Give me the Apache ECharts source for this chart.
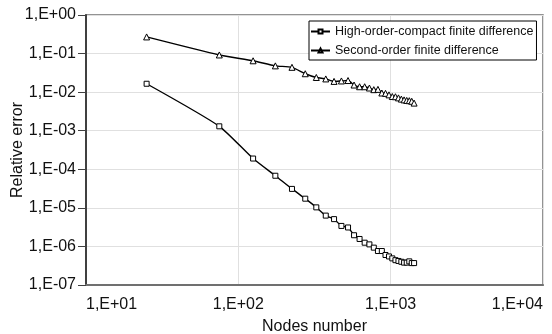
<!DOCTYPE html>
<html>
<head>
<meta charset="utf-8">
<script src="https://cdn.jsdelivr.net/npm/echarts@6/dist/echarts.min.js"></script>
<style>
html,body{margin:0;padding:0;background:#fff;}
#chart{width:552px;height:334px;}
</style>
</head>
<body>
<div id="chart"></div>
<script>
const nodes = [25, 75, 125, 175, 225, 275, 325, 375, 425, 475, 525, 575, 625, 675, 725,
  775, 825, 875, 925, 975, 1025, 1075, 1125, 1175, 1225, 1275, 1325, 1375, 1425];
const highOrderCompact = [1.65e-2, 1.3e-3, 1.9e-4, 6.8e-5, 3.1e-5, 1.73e-5, 1.03e-5, 6.3e-6,
  5.1e-6, 3.4e-6, 3.1e-6, 1.95e-6, 1.56e-6, 1.25e-6, 1.13e-6, 9.3e-7, 7.6e-7, 7.6e-7,
  6.0e-7, 5.5e-7, 4.9e-7, 4.4e-7, 4.2e-7, 4.0e-7, 3.8e-7, 3.8e-7, 4.1e-7, 3.7e-7, 3.7e-7];
const secondOrder = [0.27, 0.092, 0.065, 0.048, 0.044, 0.030, 0.024, 0.022, 0.019, 0.0195,
  0.020, 0.0153, 0.0138, 0.0138, 0.0128, 0.0116, 0.0118, 0.0095, 0.0093, 0.0085, 0.0077,
  0.0076, 0.0071, 0.0066, 0.0063, 0.0061, 0.0060, 0.0058, 0.0052];
const seriesNames = ['High-order-compact finite difference', 'Second-order finite difference'];
const xTickLabels = ['1,E+01', '1,E+02', '1,E+03', '1,E+04'];
const yTickLabels = ['1,E-07', '1,E-06', '1,E-05', '1,E-04', '1,E-03', '1,E-02', '1,E-01', '1,E+00'];

const font = "'Liberation Sans', Arial, sans-serif";
const chart = echarts.init(document.getElementById('chart'), null, {renderer: 'canvas'});
chart.setOption({
  animation: false,
  backgroundColor: '#fff',
  textStyle: {fontFamily: font, color: '#111'},
  grid: {left: 86, right: 9, top: 15, bottom: 49, containLabel: false, outerBoundsMode: 'none',
    show: true, borderColor: '#707070', borderWidth: 1.5, backgroundColor: 'transparent'},
  legend: {
    orient: 'vertical', left: 309, top: 21,
    backgroundColor: '#fff', borderColor: '#000', borderWidth: 1,
    padding: [2, 3, 1, 1], itemGap: 2, itemWidth: 19, itemHeight: 5,
    textStyle: {fontFamily: font, fontSize: 12.5, color: '#111', lineHeight: 17},
    data: seriesNames
  },
  xAxis: {
    type: 'log', logBase: 10, min: 10, max: 10000, interval: 1,
    name: 'Nodes number', nameLocation: 'middle', nameGap: 34, nameMoveOverlap: false,
    nameTextStyle: {fontFamily: font, fontSize: 16, color: '#111'},
    axisLine: {show: true, lineStyle: {color: '#707070', width: 2}},
    axisTick: {show: false},
    axisLabel: {fontFamily: font, fontSize: 16, color: '#111', margin: 12,
      alignMinLabel: 'left', alignMaxLabel: 'right',
      formatter: v => xTickLabels[Math.round(Math.log10(v)) - 1]},
    splitLine: {show: true, lineStyle: {color: '#e0e0e0', width: 1}}
  },
  yAxis: {
    type: 'log', logBase: 10, min: 1e-7, max: 1, interval: 1,
    name: 'Relative error', nameLocation: 'middle', nameGap: 60, nameMoveOverlap: false,
    nameTextStyle: {fontFamily: font, fontSize: 16, color: '#111'},
    axisLine: {show: true, lineStyle: {color: '#404040', width: 2}},
    axisTick: {show: true, length: 8, lineStyle: {color: '#404040', width: 1}},
    axisLabel: {fontFamily: font, fontSize: 16, color: '#111', margin: 10,
      formatter: v => yTickLabels[Math.round(Math.log10(v)) + 7]},
    splitLine: {show: true, lineStyle: {color: '#e0e0e0', width: 1}}
  },
  series: [
    {
      name: seriesNames[0], type: 'line', smooth: 0.2,
      data: nodes.map((n, i) => [n, highOrderCompact[i]]),
      symbol: 'rect', symbolSize: 5, showAllSymbol: true,
      lineStyle: {color: '#000', width: 1.4},
      itemStyle: {color: '#fff', borderColor: '#000', borderWidth: 1}
    },
    {
      name: seriesNames[1], type: 'line', smooth: 0.2,
      data: nodes.map((n, i) => [n, secondOrder[i]]),
      symbol: 'triangle', symbolSize: 6, showAllSymbol: true,
      lineStyle: {color: '#000', width: 1.4},
      itemStyle: {color: '#fff', borderColor: '#000', borderWidth: 1}
    }
  ]
});
</script>
</body>
</html>
